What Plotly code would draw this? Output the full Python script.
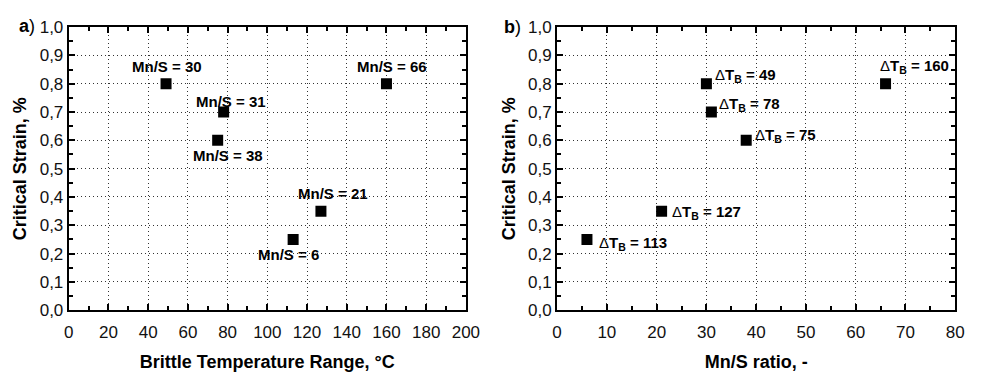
import plotly.graph_objects as go

# Data
brittle_range = [49, 78, 75, 160, 127, 113]          # °C
mn_s_ratio = [30, 31, 38, 66, 21, 6]
critical_strain = [0.8, 0.7, 0.6, 0.8, 0.35, 0.25]    # %

x_ticks_a = [0, 20, 40, 60, 80, 100, 120, 140, 160, 180, 200]
x_ticks_b = [0, 10, 20, 30, 40, 50, 60, 70, 80]
y_ticks = [0.0, 0.1, 0.2, 0.3, 0.4, 0.5, 0.6, 0.7, 0.8, 0.9, 1.0]

# label offsets (pixels) for panel a (centered labels) and panel b (left-anchored)
shift_a = [(1, 17), (7, 11), (10, -15), (6, 17), (12, 18), (-5, -15)]
shift_b = [(7, 8), (6, 8), (7, 5), (-8, 17), (8, -1), (10, -4)]

FONT = "Liberation Sans"

fig = go.Figure()
fig.add_trace(go.Scatter(x=brittle_range, y=critical_strain, mode="markers",
                         marker=dict(symbol="square", size=11, color="black"),
                         xaxis="x", yaxis="y", showlegend=False))
fig.add_trace(go.Scatter(x=mn_s_ratio, y=critical_strain, mode="markers",
                         marker=dict(symbol="square", size=11, color="black"),
                         xaxis="x2", yaxis="y2", showlegend=False))

annotations = []
for xv, yv, r, (dx, dy) in zip(brittle_range, critical_strain, mn_s_ratio, shift_a):
    annotations.append(dict(x=xv, y=yv, xref="x", yref="y", text=f"<b>Mn/S = {r}</b>",
                            showarrow=False, xshift=dx, yshift=dy, xanchor="center",
                            yanchor="middle", font=dict(family=FONT, size=15, color="black")))
for xv, yv, t, (dx, dy) in zip(mn_s_ratio, critical_strain, brittle_range, shift_b):
    annotations.append(dict(x=xv, y=yv, xref="x2", yref="y2",
                            text=f"Δ<b>T<sub>B</sub> = {t}</b>",
                            showarrow=False, xshift=dx, yshift=dy, xanchor="left",
                            yanchor="middle", font=dict(family=FONT, size=15, color="black")))

W, H = 981, 372
annotations.append(dict(x=12 / W, y=1 - 18 / H, xref="paper", yref="paper", text="<b>a</b>)",
                        showarrow=False, xanchor="left", yanchor="middle",
                        font=dict(family=FONT, size=18, color="black")))
annotations.append(dict(x=507 / W, y=1 - 19 / H, xref="paper", yref="paper", text="<b>b</b>)",
                        showarrow=False, xanchor="left", yanchor="middle",
                        font=dict(family=FONT, size=18, color="black")))

common_axis = dict(showline=True, linecolor="black", linewidth=2, mirror="ticks",
                   ticks="inside", ticklen=6, tickwidth=1.5, tickcolor="black",
                   showgrid=True, gridcolor="#333", gridwidth=1, griddash="1px,3px",
                   zeroline=False, tickfont=dict(family=FONT, size=17, color="#111"))

ydom = [1 - 317.5 / H, 1 - 19 / H]

fig.update_layout(
    width=W, height=H, margin=dict(l=0, r=0, t=0, b=0),
    paper_bgcolor="white", plot_bgcolor="white",
    separators=", ",
    font=dict(family=FONT),
    xaxis=dict(domain=[65 / W, 470 / W], range=[0, 200], tickmode="array",
               tickvals=x_ticks_a, anchor="y", ticklabelstandoff=5,
               minor=dict(ticks="inside", dtick=10, tick0=0, ticklen=4, tickcolor="black", showgrid=False),
               title=dict(text="<b>Brittle Temperature Range, °C</b>", standoff=15,
                          font=dict(family=FONT, size=18, color="black")),
               **common_axis),
    yaxis=dict(domain=ydom, range=[0, 1], tickmode="array", tickvals=y_ticks,
               tickformat=".1f", anchor="x",
               minor=dict(ticks="inside", dtick=0.05, tick0=0, ticklen=4, tickcolor="black", showgrid=False),
               title=dict(text="<b>Critical Strain, %</b>", standoff=8,
                          font=dict(family=FONT, size=18, color="black")),
               **common_axis),
    xaxis2=dict(domain=[563 / W, 969 / W], range=[0, 80], tickmode="array",
                tickvals=x_ticks_b, anchor="y2", ticklabelstandoff=5,
                minor=dict(ticks="inside", dtick=5, tick0=0, ticklen=4, tickcolor="black", showgrid=False),
                title=dict(text="<b>Mn/S ratio, -</b>", standoff=15,
                           font=dict(family=FONT, size=18, color="black")),
                **common_axis),
    yaxis2=dict(domain=ydom, range=[0, 1], tickmode="array", tickvals=y_ticks,
                tickformat=".1f", anchor="x2",
                minor=dict(ticks="inside", dtick=0.05, tick0=0, ticklen=4, tickcolor="black", showgrid=False),
                title=dict(text="<b>Critical Strain, %</b>", standoff=8,
                           font=dict(family=FONT, size=18, color="black")),
                **common_axis),
    annotations=annotations,
)

fig.write_html("out.html")
